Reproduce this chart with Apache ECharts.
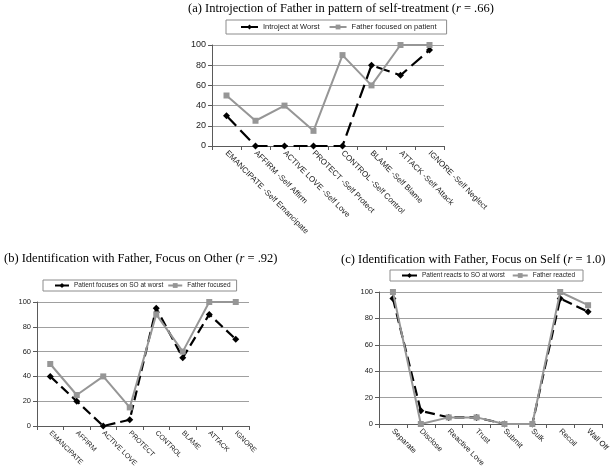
<!DOCTYPE html>
<html>
<head>
<meta charset="utf-8">
<script src="https://cdn.jsdelivr.net/npm/echarts@6/dist/echarts.min.js"></script>
<style>
html, body { margin: 0; padding: 0; background: #fff; }
#chart { width: 612px; height: 472px; }
</style>
</head>
<body>
<div id="chart"></div>
<script>
// (a) Introjection of Father in pattern of self-treatment
var introjectCategories = ['EMANCIPATE -Self Emancipate', 'AFFIRM -Self Affirm', 'ACTIVE LOVE -Self Love',
    'PROTECT -Self Protect', 'CONTROL -Self Control', 'BLAME -Self Blame', 'ATTACK -Self Attack', 'IGNORE -Self Neglect'];
var introjectAtWorst = [30, 0, 0, 0, 0, 80, 70, 95];
var fatherFocusedOnPatient = [50, 25, 40, 15, 90, 60, 100, 100];

// (b) Identification with Father, Focus on Other
var otherCategories = ['EMANCIPATE', 'AFFIRM', 'ACTIVE LOVE', 'PROTECT', 'CONTROL', 'BLAME', 'ATTACK', 'IGNORE'];
var patientFocusesOnSO = [40, 20, 0, 5, 95, 55, 90, 70];
var fatherFocused = [50, 25, 40, 15, 90, 60, 100, 100];

// (c) Identification with Father, Focus on Self
var selfCategories = ['Separate', 'Disclose', 'Reactive Love', 'Trust', 'Submit', 'Sulk', 'Recoil', 'Wall Off'];
var patientReactsToSO = [95, 10, 5, 5, 0, 0, 95, 85];
var fatherReacted = [100, 0, 5, 5, 0, 0, 100, 90];

// shared y ticks
var yTicks = [0, 20, 40, 60, 80, 100];

var SANS = 'Liberation Sans, Arial, sans-serif';
var SERIF = 'Liberation Serif, Times New Roman, serif';

function makeTitle(text, left, top) {
    return {
        text: text,
        left: left,
        top: top,
        padding: 0,
        textStyle: {
            fontFamily: SERIF, fontSize: 12.5, fontWeight: 'normal', color: '#000',
            rich: {
                i: { fontFamily: SERIF, fontSize: 12.5, fontStyle: 'italic', color: '#000' }
            }
        }
    };
}

function makeLegend(names, left, top, fontSize, itemWidth, itemGap, padding) {
    return {
        data: names,
        left: left,
        top: top,
        orient: 'horizontal',
        itemWidth: itemWidth,
        itemHeight: 6,
        itemGap: itemGap,
        padding: padding,
        borderColor: '#8c8c8c',
        borderWidth: 1,
        selectedMode: false,
        lineStyle: { type: 'solid' },
        textStyle: { fontFamily: SANS, fontSize: fontSize, color: '#222' }
    };
}

function makeXAxis(gridIndex, categories, fontSize) {
    return {
        type: 'category',
        gridIndex: gridIndex,
        data: categories,
        boundaryGap: true,
        axisLine: { lineStyle: { color: '#5a5a5a', width: 1 } },
        axisTick: { show: true, length: 4, alignWithLabel: false, lineStyle: { color: '#5a5a5a' } },
        axisLabel: {
            interval: 0, rotate: -45, margin: 6,
            fontFamily: SANS, fontSize: fontSize, color: '#222'
        },
        splitLine: { show: false }
    };
}

function makeYAxis(gridIndex, fontSize) {
    return {
        type: 'value',
        gridIndex: gridIndex,
        min: yTicks[0],
        max: yTicks[yTicks.length - 1],
        interval: yTicks[1] - yTicks[0],
        axisLine: { show: true, lineStyle: { color: '#5a5a5a', width: 1 } },
        axisTick: { show: true, length: 4, lineStyle: { color: '#5a5a5a' } },
        axisLabel: { margin: 6, fontFamily: SANS, fontSize: fontSize, color: '#222' },
        splitLine: { show: true, lineStyle: { color: '#a0a0a0', width: 1 } }
    };
}

// black dashed line with diamonds
function makeWorstSeries(name, data, axisIndex, dash) {
    return {
        name: name,
        type: 'line',
        xAxisIndex: axisIndex,
        yAxisIndex: axisIndex,
        data: data,
        symbol: 'diamond',
        symbolSize: 7,
        itemStyle: { color: '#000' },
        lineStyle: { color: '#000', width: 2.2, type: dash },
        z: 3
    };
}

// grey solid line with squares
function makeFatherSeries(name, data, axisIndex) {
    return {
        name: name,
        type: 'line',
        xAxisIndex: axisIndex,
        yAxisIndex: axisIndex,
        data: data,
        symbol: 'rect',
        symbolSize: 6,
        itemStyle: { color: '#969696' },
        lineStyle: { color: '#969696', width: 2, type: 'solid' },
        z: 4
    };
}

var chart = echarts.init(document.getElementById('chart'), null, { renderer: 'canvas' });

var option = {
    animation: false,
    backgroundColor: '#fff',
    title: [
        makeTitle('(a) Introjection of Father in pattern of self-treatment ({i|r} = .66)', 188, 2),
        makeTitle('(b) Identification with Father, Focus on Other ({i|r} = .92)', 4, 252),
        makeTitle('(c) Identification with Father, Focus on Self ({i|r} = 1.0)', 341, 253)
    ],
    legend: [
        makeLegend(['Introject at Worst', 'Father focused on patient'], 226, 20, 7.5, 17, 9, [3, 10, 3, 14]),
        makeLegend(['Patient focuses on SO at worst', 'Father focused'], 43, 280, 6.5, 14, 4, [2, 6, 2, 11]),
        makeLegend(['Patient reacts to SO at worst', 'Father reacted'], 390, 270, 6.5, 15, 7, [2, 8, 2, 11])
    ],
    grid: [
        { left: 212, right: 168, top: 45, bottom: 326 },
        { left: 37, right: 363, top: 302, bottom: 46 },
        { left: 379, right: 9, top: 292, bottom: 48 }
    ],
    xAxis: [
        makeXAxis(0, introjectCategories, 8),
        makeXAxis(1, otherCategories, 7),
        makeXAxis(2, selfCategories, 7.7)
    ],
    yAxis: [
        makeYAxis(0, 9),
        makeYAxis(1, 7.5),
        makeYAxis(2, 7.5)
    ],
    series: [
        makeWorstSeries('Introject at Worst', introjectAtWorst, 0, [14, 6]),
        makeFatherSeries('Father focused on patient', fatherFocusedOnPatient, 0),
        makeWorstSeries('Patient focuses on SO at worst', patientFocusesOnSO, 1, [10, 5]),
        makeFatherSeries('Father focused', fatherFocused, 1),
        makeWorstSeries('Patient reacts to SO at worst', patientReactsToSO, 2, [10, 5]),
        makeFatherSeries('Father reacted', fatherReacted, 2)
    ]
};

chart.setOption(option);
</script>
</body>
</html>
